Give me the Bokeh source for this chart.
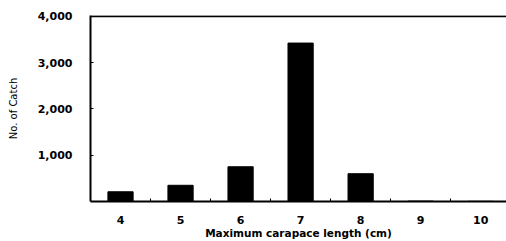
from bokeh.plotting import figure
from bokeh.models import FixedTicker, NumeralTickFormatter, Span, Range1d
from bokeh.embed import file_html
from bokeh.resources import INLINE

lengths = [4, 5, 6, 7, 8, 9, 10]
catch = [210, 350, 750, 3420, 600, 8, 4]
y_ticks = [1000, 2000, 3000, 4000]

FONT = "DejaVu Sans"

p = figure(width=506, height=241, output_backend="svg", toolbar_location=None,
           x_range=Range1d(3.5, 10.43), y_range=Range1d(0, 4015),
           min_border_left=90, min_border_right=0, min_border_top=15, min_border_bottom=39)
p.vbar(x=lengths, top=catch, width=0.42, color="black")

p.outline_line_color = None
p.grid.visible = False
p.add_layout(Span(location=4000, dimension="width", line_color="black", line_width=2))

xa = p.xaxis[0]
xa.ticker = FixedTicker(ticks=lengths, minor_ticks=[4.5, 5.5, 6.5, 7.5, 8.5, 9.5])
xa.major_tick_in = 0
xa.major_tick_out = 0
xa.minor_tick_in = 3
xa.minor_tick_out = 0
xa.axis_line_width = 2
xa.major_label_text_font = FONT
xa.major_label_text_font_style = "bold"
xa.major_label_text_font_size = "11px"
xa.major_label_text_color = "black"
xa.major_label_standoff = 14
xa.axis_label = "Maximum carapace length (cm)"
xa.axis_label_text_font = FONT
xa.axis_label_text_font_style = "bold"
xa.axis_label_text_font_size = "10.5px"
xa.axis_label_text_color = "black"
xa.axis_label_standoff = 0

ya = p.yaxis[0]
ya.ticker = FixedTicker(ticks=y_ticks)
ya.formatter = NumeralTickFormatter(format="0,0")
ya.major_tick_in = 3
ya.major_tick_out = 0
ya.minor_tick_line_color = None
ya.axis_line_width = 2
ya.major_label_text_font = FONT
ya.major_label_text_font_style = "bold"
ya.major_label_text_font_size = "11px"
ya.major_label_text_color = "black"
ya.major_label_standoff = 18
ya.axis_label = "No. of Catch"
ya.axis_label_text_font = FONT
ya.axis_label_text_font_style = "normal"
ya.axis_label_text_font_size = "10px"
ya.axis_label_text_color = "black"
ya.axis_label_standoff = 16

open("out.html", "w").write(file_html(p, INLINE))
